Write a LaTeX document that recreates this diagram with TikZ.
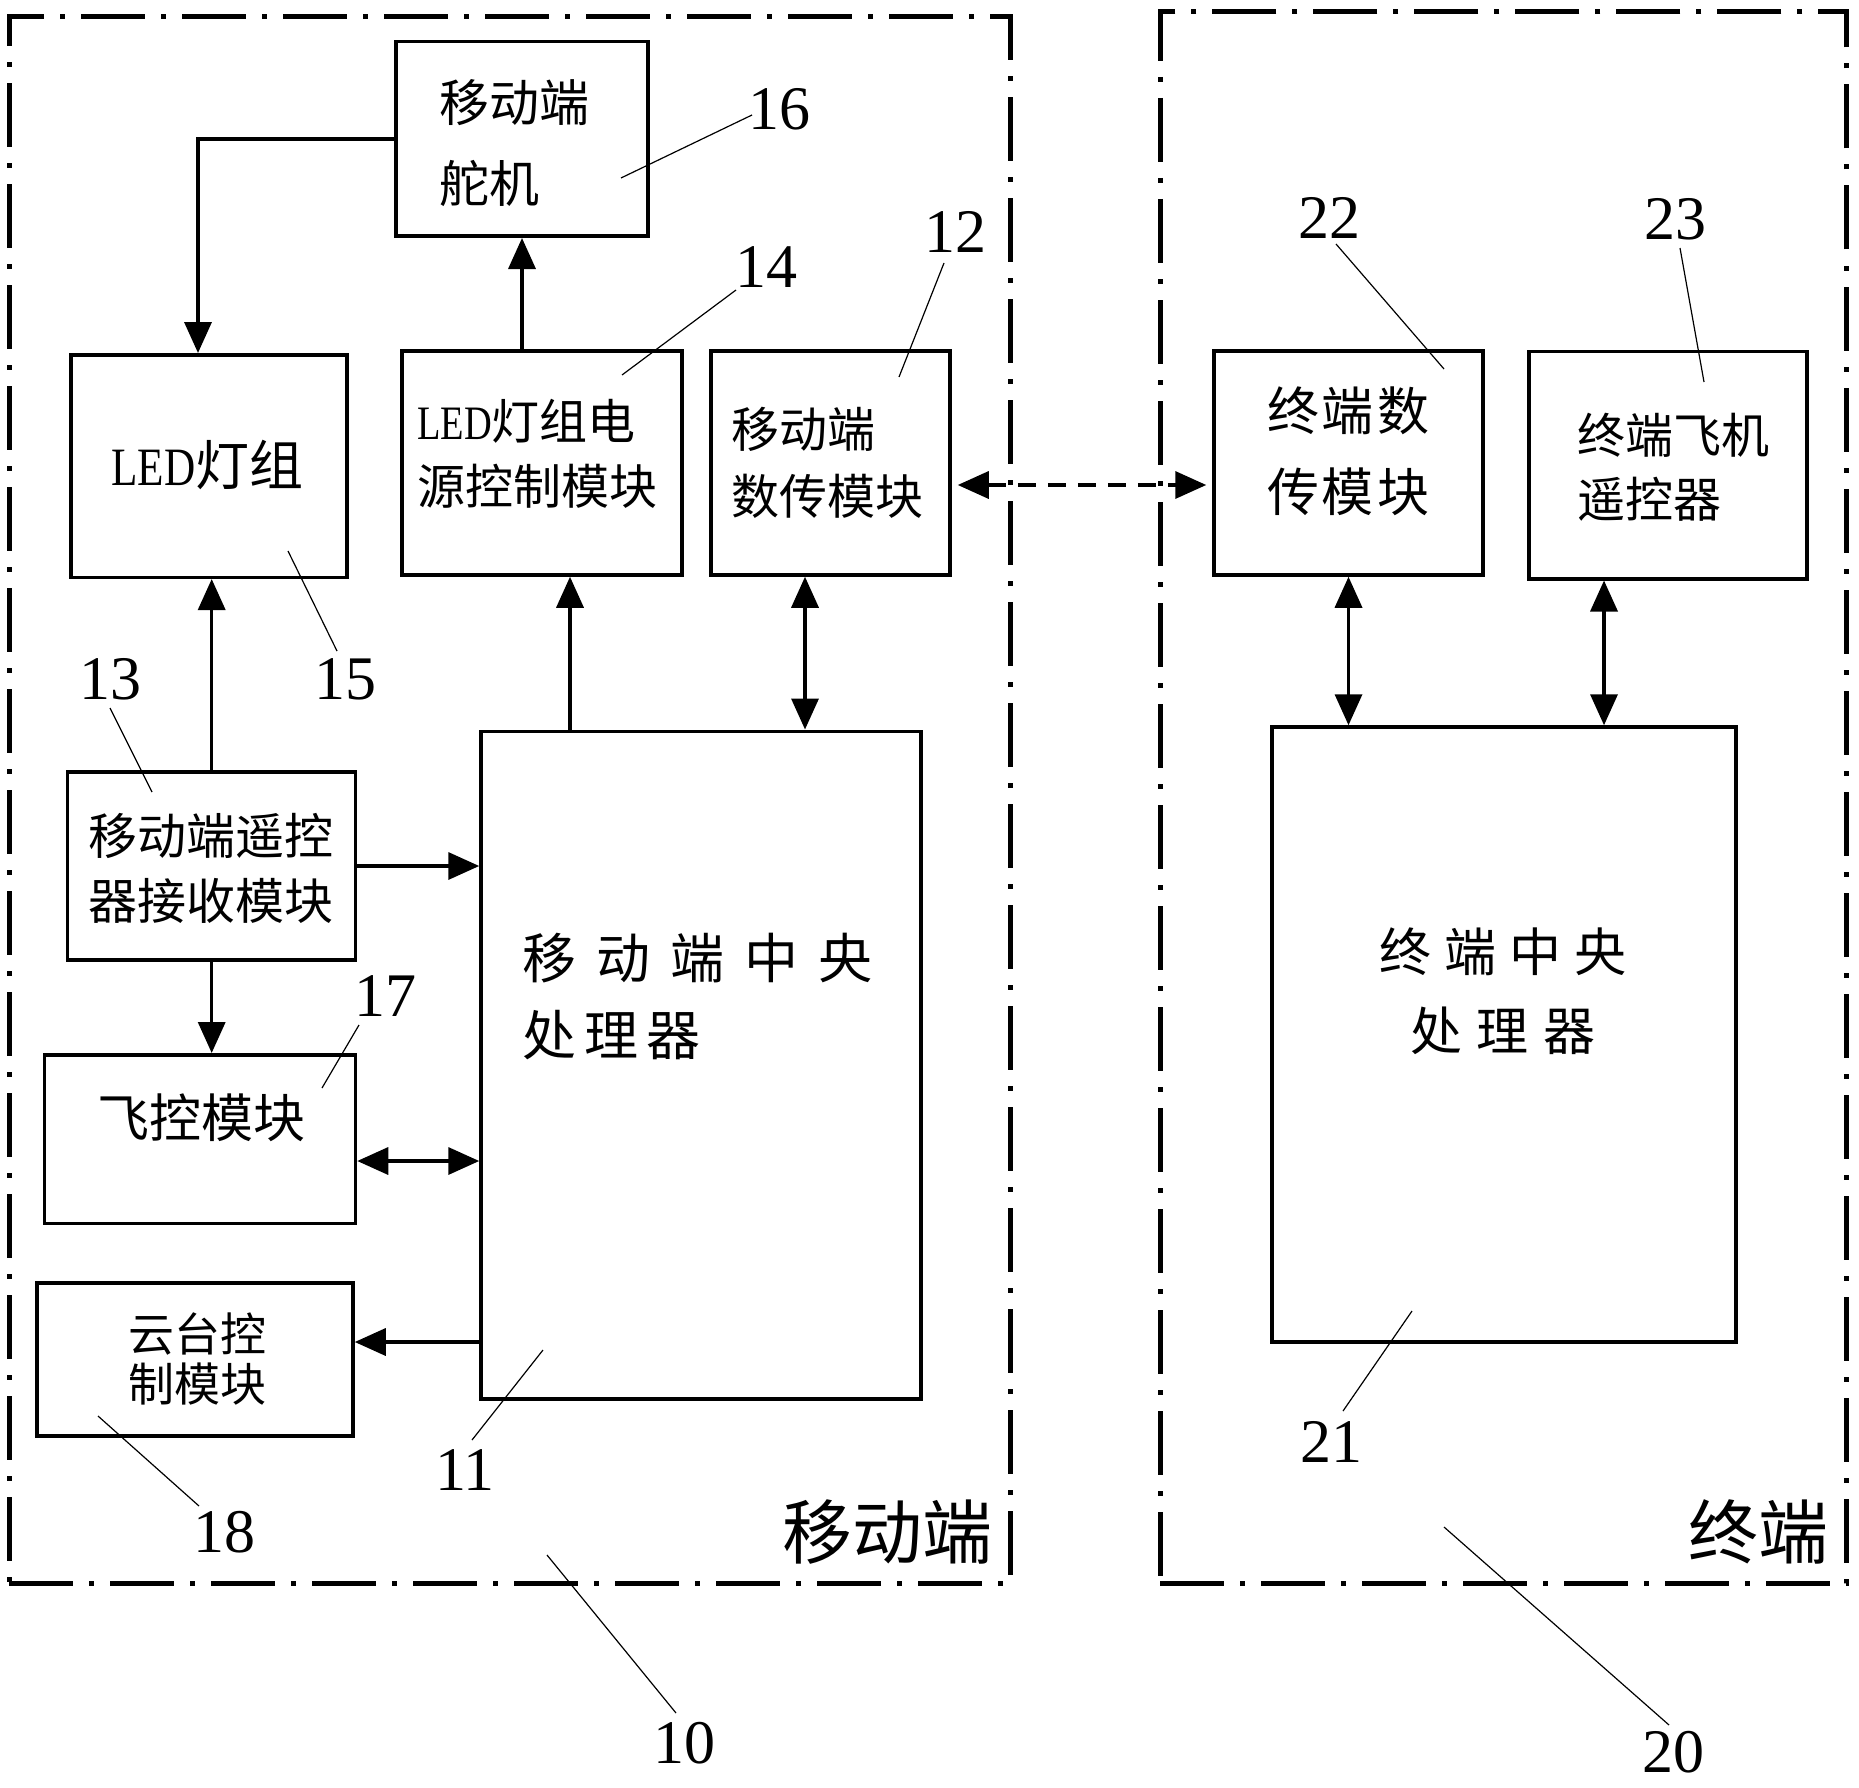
\documentclass[tikz,border=0pt]{standalone}
\usepackage{fontspec}
\setmainfont{Liberation Serif}
\newfontfamily\cjk{Noto Sans CJK SC}
\usetikzlibrary{arrows.meta}
\tikzset{
  box/.style={draw, line width=3.5pt, inner sep=0pt, rectangle},
  ctext/.style={font=\cjk\fontsize{50}{81}\selectfont, inner sep=0pt},
  num/.style={font=\fontsize{62}{62}\selectfont, inner sep=0pt},
  tip/.tip={Triangle[width=27pt,length=31pt]},
  conn/.style={line width=3.5pt, -tip},
  biconn/.style={line width=3.5pt, tip-tip},
  leader/.style={line width=1.2pt},
  region/.style={draw, line width=5pt, dash pattern=on 64pt off 16pt on 5pt off 16pt, inner sep=0pt},
}
\newcommand{\led}{{\rmfamily\scalebox{0.8}[1]{LED}}}
\begin{document}
\begin{tikzpicture}[x=1pt,y=-1pt]
\useasboundingbox (0,0) rectangle (1859,1787);
% regions
\node[region, minimum width=1001.5pt, minimum height=1566.5pt] (r10) at (510,800) {};
\node[region, minimum width=686.5pt, minimum height=1571pt] (r20) at (1503.5,797.5) {};
\node[font=\cjk\fontsize{70}{70}\selectfont, inner sep=0pt] (lab10) at (887,1532) {移动端};
\node[font=\cjk\fontsize{70}{70}\selectfont, inner sep=0pt] (lab20) at (1758,1532) {终端};
% boxes
\node[box, minimum width=252pt, minimum height=194.5pt] (n16) at (522,139) {};
\node[box, minimum width=276pt, minimum height=222.5pt] (n15) at (209,466) {};
\node[box, minimum width=280pt, minimum height=224pt] (n14) at (542,463) {};
\node[box, minimum width=239pt, minimum height=224pt] (n12) at (830.5,463) {};
\node[box, minimum width=288pt, minimum height=188pt] (n13) at (211.7,866) {};
\node[box, minimum width=440pt, minimum height=667.5pt] (n11) at (701,1065) {};
\node[box, minimum width=311pt, minimum height=168.5pt] (n17) at (200,1139) {};
\node[box, minimum width=316pt, minimum height=153pt] (n18) at (195,1359.5) {};
\node[box, minimum width=269pt, minimum height=224pt] (n22) at (1348.5,463) {};
\node[box, minimum width=278pt, minimum height=227.5pt] (n23) at (1668,465) {};
\node[box, minimum width=464pt, minimum height=615pt] (n21) at (1504,1034.5) {};
% texts
\node[ctext, anchor=west, align=left] (t16) at (439,143.5) {移动端\\舵机};
\node[ctext, font=\cjk\fontsize{54}{54}\selectfont] (t15) at (207.5,465) {\led 灯组};
\node[ctext, anchor=west, align=left, font=\cjk\fontsize{48}{65}\selectfont] (t14) at (417,453.5) {\led 灯组电\\源控制模块};
\node[ctext, anchor=west, align=left, font=\cjk\fontsize{48}{67}\selectfont] (t12) at (731.5,462.5) {移动端\\数传模块};
\node[ctext, align=center, font=\cjk\fontsize{49}{65}\selectfont] (t13) at (211,868.5) {移动端遥控\\器接收模块};
\node[ctext, anchor=west, align=left, font=\cjk\fontsize{54}{77}\selectfont] (t11) at (522,996.5) {移\hspace{20pt}动\hspace{20pt}端\hspace{20pt}中\hspace{20pt}央\\处\hspace{8pt}理\hspace{8pt}器};
\node[ctext, font=\cjk\fontsize{52}{52}\selectfont] (t17) at (201.5,1118) {飞控模块};
\node[ctext, align=center, font=\cjk\fontsize{46}{50}\selectfont] (t18) at (197,1359) {云台控\\制模块};
\node[ctext, align=center, font=\cjk\fontsize{52}{81}\selectfont] (t22) at (1348,451.5) {终\hspace{3pt}端\hspace{3pt}数\\传\hspace{3pt}模\hspace{3pt}块};
\node[ctext, anchor=west, align=left, font=\cjk\fontsize{48}{64}\selectfont] (t23) at (1577,467) {终端飞机\\遥控器};
\node[ctext, align=center, font=\cjk\fontsize{52}{79}\selectfont] (t21) at (1503,991.5) {终\hspace{13pt}端\hspace{13pt}中\hspace{13pt}央\\处\hspace{15pt}理\hspace{15pt}器};
% helper coordinates
\coordinate (x198) at (198,0);
\coordinate (x570) at (570,0);
\coordinate (x805) at (805,0);
\coordinate (x1604) at (1604,0);
\coordinate (y485) at (0,485);
\coordinate (y1161) at (0,1161);
\coordinate (y1342) at (0,1342);
% connectors
\draw[conn] (n16.west) -| (n15.north -| x198);
\draw[conn] (n14.north -| n16.south) -- (n16.south);
\draw[conn] (n11.north -| x570) -- (n14.south -| x570);
\draw[biconn] (n11.north -| x805) -- (n12.south -| x805);
\draw[conn] (n13.north) -- (n15.south -| n13.north);
\draw[conn] (n13.east) -- (n13.east -| n11.west);
\draw[conn] (n13.south) -- (n17.north -| n13.south);
\draw[biconn] (n17.east |- y1161) -- (n11.west |- y1161);
\draw[conn] (n11.west |- y1342) -- (n18.east |- y1342);
\draw[biconn, dash pattern=on 18pt off 12pt] ([xshift=6pt]n12.east |- y485) -- ([xshift=-6pt]n22.west |- y485);
\draw[biconn] (n22.south) -- (n21.north -| n22.south);
\draw[biconn] (n23.south -| x1604) -- (n21.north -| x1604);
% reference numbers
\node[num] (l16) at (779,109) {16};
\node[num] (l12) at (955.6,232) {12};
\node[num] (l14) at (766,267) {14};
\node[num] (l15) at (345,679) {15};
\node[num] (l13) at (110,679) {13};
\node[num] (l17) at (385,996) {17};
\node[num] (l11) at (465,1470) {11};
\node[num] (l18) at (224,1532) {18};
\node[num] (l10) at (684,1743) {10};
\node[num] (l22) at (1329,218) {22};
\node[num] (l23) at (1675,219) {23};
\node[num] (l21) at (1331,1442) {21};
\node[num] (l20) at (1673,1752) {20};
% leader end points
\coordinate (p16) at (621,178);
\coordinate (p12) at (899,377);
\coordinate (p14) at (622,375);
\coordinate (p15) at (288,551);
\coordinate (p13) at (152,792);
\coordinate (p17) at (322,1088);
\coordinate (p11) at (543,1350);
\coordinate (p18) at (98,1416);
\coordinate (p10) at (547,1555);
\coordinate (p22) at (1444,369);
\coordinate (p23) at (1704,382);
\coordinate (p21) at (1412,1311);
\coordinate (p20) at (1444,1527);
\draw[leader] (752,115) -- (p16);
\draw[leader] (944,263) -- (p12);
\draw[leader] (736,290) -- (p14);
\draw[leader] (337,651) -- (p15);
\draw[leader] (110,708) -- (p13);
\draw[leader] (359,1025) -- (p17);
\draw[leader] (472,1440) -- (p11);
\draw[leader] (199,1506) -- (p18);
\draw[leader] (676,1713) -- (p10);
\draw[leader] (1336,244) -- (p22);
\draw[leader] (1680,248) -- (p23);
\draw[leader] (1343,1411) -- (p21);
\draw[leader] (1669,1725) -- (p20);
\end{tikzpicture}
\end{document}
